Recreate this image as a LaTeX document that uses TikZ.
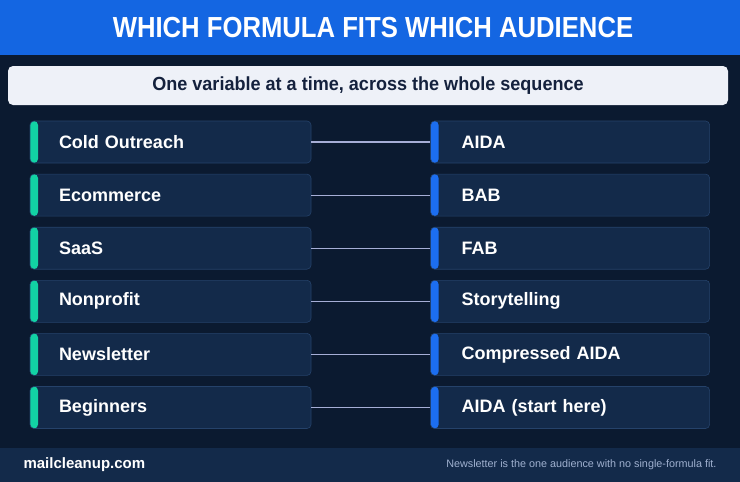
\documentclass[tikz,border=0pt]{standalone}
\usepackage{fontspec}
\setmainfont{Liberation Sans}
\usetikzlibrary{positioning}
\definecolor{bgnavy}{HTML}{0B1A30}
\definecolor{headblue}{HTML}{1466E2}
\definecolor{boxnavy}{HTML}{132A4A}
\definecolor{boxedge}{HTML}{25426A}
\definecolor{audteal}{HTML}{12D2A4}
\definecolor{formblue}{HTML}{1C6EF0}
\definecolor{linkgray}{HTML}{A6AED6}
\definecolor{footnavy}{HTML}{132A4A}
\definecolor{notegray}{HTML}{9FB0CF}
\definecolor{subfill}{HTML}{EEF1F8}
\definecolor{subtext}{HTML}{14213D}

\begin{document}
\begin{tikzpicture}[x=1pt,y=-1pt,
		aud/.style={rounded corners=4pt,fill=boxnavy,draw=boxedge,line width=0.6pt,minimum height=42pt,
			text width=223pt,inner xsep=29pt,inner ysep=0pt,align=left,text=white,
			font=\fontsize{18}{20}\selectfont\bfseries,
			path picture={\fill[audteal] (path picture bounding box.north west) rectangle ([xshift=8pt]path picture bounding box.south west);}},
		form/.style={aud,text width=217pt,inner xsep=31pt,
			path picture={\fill[formblue] (path picture bounding box.north west) rectangle ([xshift=8pt]path picture bounding box.south west);}},
		link/.style={draw=linkgray,line width=1.1pt}]
		\fill[bgnavy] (0,0) rectangle (740,482);
		\useasboundingbox (0,0) rectangle (740,482);
		\fill[headblue] (0,0) rectangle (740,55);
		\fill[footnavy] (0,448) rectangle (740,482);

		\node[text=white,font=\fontsize{29}{31}\selectfont\bfseries]			(title)	at (373,27.5)	{\scalebox{0.885}[1]{WHICH FORMULA FITS WHICH AUDIENCE}};
		\node[fill=subfill,rounded corners=5pt,minimum width=720pt,minimum height=39pt,
			text=subtext,font=\fontsize{19}{21}\selectfont\bfseries]			(sub)	at (368,85.5)	{\scalebox{0.95}[1]{One variable at a time, across the whole sequence}};

		\node[aud]								(cold)		at (170.5,142)	{Cold Outreach};
		\node[aud,below=10.5pt of cold]			(ecom)		{Ecommerce};
		\node[aud,below=10.5pt of ecom]			(saas)		{SaaS};
		\node[aud,below=10.5pt of saas]			(nonprofit)	{Nonprofit};
		\node[aud,below=10.5pt of nonprofit]	(news)		{Newsletter};
		\node[aud,below=10.5pt of news]			(begin)		{Beginners};

		\node[form,right=119pt of cold]			(aida)		{AIDA};
		\node[form,right=119pt of ecom]			(bab)		{BAB};
		\node[form,right=119pt of saas]			(fab)		{FAB};
		\node[form,right=119pt of nonprofit]	(story)		{Storytelling};
		\node[form,right=119pt of news]			(compact)	{Compressed AIDA};
		\node[form,right=119pt of begin]		(start)		{AIDA (start here)};

		\draw[link] (cold) -- (aida);
		\draw[link] (ecom) -- (bab);
		\draw[link] (saas) -- (fab);
		\draw[link] (nonprofit) -- (story);
		\draw[link] (news) -- (compact);
		\draw[link] (begin) -- (start);

		\node[anchor=west,text=white,font=\fontsize{15}{17}\selectfont\bfseries]	(site)	at (20,465)	{mailcleanup.com};
		\node[anchor=east,text=notegray,font=\fontsize{10.8}{13}\selectfont]		(note)	at (720,465)	{Newsletter is the one audience with no single-formula fit.};
	\end{tikzpicture}
\end{document}
